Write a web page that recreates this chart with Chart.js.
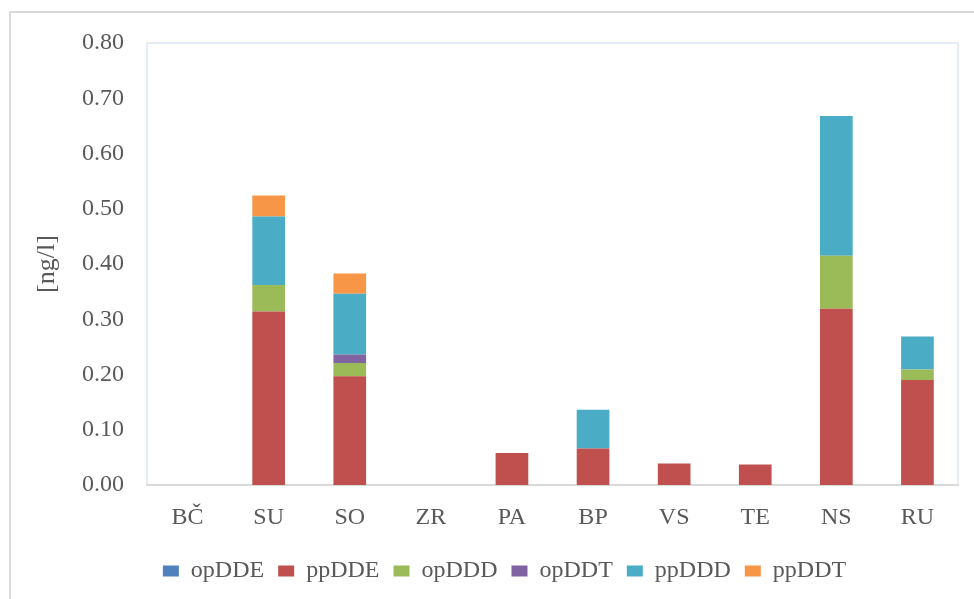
<!DOCTYPE html>
<html>
<head>
<meta charset="utf-8">
<script src="https://cdn.jsdelivr.net/npm/chart.js@4.4.1/dist/chart.umd.min.js"></script>
<style>
  html,body{margin:0;padding:0;background:#fff;}
  #wrap{position:relative;width:974px;height:599px;}
</style>
</head>
<body>
<div id="wrap"><canvas id="chart" width="974" height="599"></canvas></div>
<script>
const sites=["BČ","SU","SO","ZR","PA","BP","VS","TE","NS","RU"];

const opDDE=[0,0,0,0,0,0,0,0,0,0];
const ppDDE=[0,0.314,0.197,0,0.058,0.066,0.039,0.037,0.319,0.190];
const opDDD=[0,0.048,0.024,0,0,0,0,0,0.096,0.019];
const opDDT=[0,0,0.015,0,0,0,0,0,0,0];
const ppDDD=[0,0.124,0.110,0,0,0.070,0,0,0.253,0.060];
const ppDDT=[0,0.038,0.037,0,0,0,0,0,0,0];

const yMin=0, yMax=0.8, yStep=0.1;
const yTitle="[ng/l]";

const txt="#595959";
const serif="'Liberation Serif','Times New Roman',serif";

// light frame round the plot + outer grey edge of the picture
const frame={
  id:"frame",
  beforeDraw(c){
    const {ctx,chartArea:a}=c;
    ctx.save();
    ctx.strokeStyle="#dde6f3";
    ctx.lineWidth=1.5;
    ctx.strokeRect(a.left,a.top,a.right-a.left,a.bottom-a.top);
    ctx.strokeStyle="#d9d9d9";
    ctx.lineWidth=2;
    ctx.beginPath();
    ctx.moveTo(10,599);
    ctx.lineTo(10,12);
    ctx.lineTo(974,12);
    ctx.stroke();
    ctx.restore();
  }
};

function ds(label,data,color){
  return {label,data,backgroundColor:color,borderWidth:0,barPercentage:0.403,categoryPercentage:1};
}

new Chart(document.getElementById("chart"),{
  type:"bar",
  data:{
    labels:sites,
    datasets:[
      ds("opDDE",opDDE,"#4F81BD"),
      ds("ppDDE",ppDDE,"#C0504D"),
      ds("opDDD",opDDD,"#9BBB59"),
      ds("opDDT",opDDT,"#8064A2"),
      ds("ppDDD",ppDDD,"#4BACC6"),
      ds("ppDDT",ppDDT,"#F79646")
    ]
  },
  options:{
    responsive:false,
    animation:false,
    devicePixelRatio:1,
    layout:{padding:{left:51,right:16,top:43,bottom:6}},
    plugins:{
      tooltip:{enabled:false},
      legend:{
        position:"bottom",
        labels:{
          boxWidth:16,boxHeight:11,padding:14,
          color:txt,
          font:{family:serif,size:24}
        }
      }
    },
    scales:{
      x:{
        stacked:true,
        grid:{display:false,drawTicks:false},
        border:{display:true,color:"#d9d9d9",width:2},
        ticks:{color:txt,padding:18,font:{family:serif,size:24}},
        afterFit(s){s.height=60;}
      },
      y:{
        stacked:true,
        min:yMin,max:yMax,
        grid:{display:false,drawTicks:false},
        border:{display:false},
        ticks:{
          stepSize:yStep,color:txt,padding:23,
          font:{family:serif,size:24},
          callback:v=>Number(v).toFixed(2)
        },
        title:{display:true,text:yTitle,color:txt,font:{family:serif,size:26},padding:{top:-19,bottom:0}},
        afterFit(s){s.width=96;}
      }
    }
  },
  plugins:[frame]
});
</script>
</body>
</html>
